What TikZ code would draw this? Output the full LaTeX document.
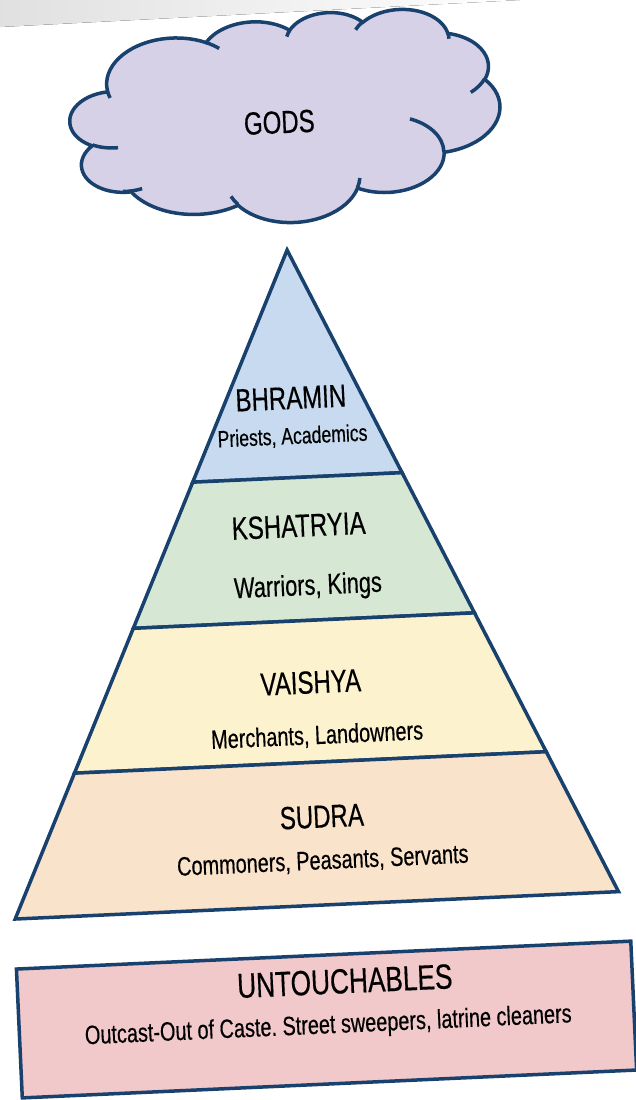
\documentclass[tikz,border=0pt]{standalone}
\usepackage{fontspec}
\setmainfont{Liberation Sans}[FakeStretch=0.75,FakeBold=0.4]
\usetikzlibrary{calc}
\definecolor{edgeblue}{RGB}{25,65,110}
\definecolor{cloudfill}{RGB}{215,209,231}
\definecolor{cblue}{RGB}{200,218,240}
\definecolor{cgreen}{RGB}{214,232,212}
\definecolor{cyellow}{RGB}{253,242,206}
\definecolor{cpeach}{RGB}{250,227,203}
\definecolor{cpink}{RGB}{242,201,203}
\newcommand\cloudarc[4]{arc[start angle={atan2((#1)*sin(#3),(#2)*cos(#3))},delta angle={mod(atan2((#1)*sin((#3)+(#4)),(#2)*cos((#3)+(#4)))-atan2((#1)*sin(#3),(#2)*cos(#3))+720,360)},x radius=#1,y radius=#2]}
\tikzset{
  band/.style={draw=edgeblue, line width=3.5pt},
  lbl/.style={inner sep=0pt, text=black},
  title/.style={lbl, font=\fontsize{32}{38}\selectfont},
}
\frenchspacing
\begin{document}
\begin{tikzpicture}[x=1pt,y=-1pt]
\useasboundingbox (0,0) rectangle (635,1100);
\fill[white] (0,0) rectangle (635,1100);
\fill[left color=black!12, right color=white] (0,0) -- (520,0) -- (0,27) -- cycle;
\begin{scope}[rotate around={2.6:(318,600)}, transform shape]
  % pyramid
  \coordinate (apex) at (303,249);
  \coordinate (bl) at (1,905);
  \coordinate (br) at (605,905);
  \coordinate (l1) at ($(apex)!0.3470!(bl)$);
  \coordinate (r1) at ($(apex)!0.3470!(br)$);
  \coordinate (l2) at ($(apex)!0.5655!(bl)$);
  \coordinate (r2) at ($(apex)!0.5655!(br)$);
  \coordinate (l3) at ($(apex)!0.7820!(bl)$);
  \coordinate (r3) at ($(apex)!0.7820!(br)$);
  \filldraw[band, fill=cblue] (apex) -- (r1) -- (l1) -- cycle;
  \filldraw[band, fill=cgreen] (l1) -- (r1) -- (r2) -- (l2) -- cycle;
  \filldraw[band, fill=cyellow] (l2) -- (r2) -- (r3) -- (l3) -- cycle;
  \filldraw[band, fill=cpeach] (l3) -- (r3) -- (br) -- (bl) -- cycle;
  % untouchables box
  \filldraw[band, fill=cpink] (0,955) rectangle (615,1084);
  % cloud (PowerPoint cloud geometry)
  \begin{scope}[shift={(92,13)}, x=0.9954pt, y=-0.4815pt]
    \filldraw[band, fill=cloudfill] (39,143.70)
      \cloudarc{67.53}{91.90}{-190.4875}{123.7805}
      \cloudarc{53.33}{72.67}{-144.1024}{89.9452}
      \cloudarc{43.65}{59.45}{-145.8079}{99.7230}
      \cloudarc{48.57}{65.95}{-130.9861}{117.2417}
      \cloudarc{53.33}{72.73}{-78.7089}{109.0269}
      \cloudarc{67.75}{92.20}{-46.2673}{130.2690}
      \cloudarc{57.85}{78.67}{0.6250}{114.0333}
      \cloudarc{67.52}{92.15}{22.4516}{115.1726}
      \cloudarc{77.20}{105.43}{66.2426}{75.7110}
      \cloudarc{43.60}{59.18}{-274.9421}{146.7356}
      \cloudarc{43.45}{59.45}{-246.8285}{152.5189}
      -- cycle;
    \draw[band] (46.93,261.77) \cloudarc{43.45}{59.45}{86.742}{26.4295};
    \draw[band] (69.28,348.99) \cloudarc{43.60}{59.18}{73.6031}{19.4192};
    \draw[band] (164.78,390.90) \cloudarc{67.52}{92.15}{137.6242}{14.0811};
    \draw[band] (288.27,347.51) \cloudarc{67.52}{92.15}{6.4533}{15.9984};
    \draw[band] (341.29,229.54) \cloudarc{57.85}{78.67}{-70.2924}{70.9174};
    \draw[band] (417.98,153.54) \cloudarc{53.33}{72.73}{30.3180}{27.7515};
    \draw[band] (383.24,54.26) \cloudarc{48.57}{65.95}{-13.7443}{14.8589};
    \draw[band] (290.78,39.52) \cloudarc{48.57}{65.95}{-149.1815}{18.1954};
    \draw[band] (221.41,47.20) \cloudarc{43.65}{59.45}{-163.4943}{17.1924};
    \draw[band] (140.00,51.92) \cloudarc{67.53}{91.90}{-66.7070}{12.3194};
    \draw[band] (41.27,157.89) \cloudarc{67.53}{91.90}{157.6544}{11.8582};
  \end{scope}
  % labels
  \node[title] (gods) at (301,121) {GODS};
  \node[title] (bhramin) at (300,397) {BHRAMIN};
  \node[lbl, font=\fontsize{23.5}{28}\selectfont] (bhraminsub) at (300,436) {Priests, Academics};
  \node[title] (kshatryia) at (302,525) {KSHATRYIA};
  \node[lbl, font=\fontsize{29}{34}\selectfont] (kshatryiasub) at (308.6,587) {Warriors, Kings};
  \node[title] (vaishya) at (307,682) {VAISHYA};
  \node[lbl, font=\fontsize{26.5}{32}\selectfont] (vaishyasub) at (311,736) {Merchants, Landowners};
  \node[title] (sudra) at (312,816.5) {SUDRA};
  \node[lbl, font=\fontsize{26.5}{32}\selectfont] (sudrasub) at (311,861.6) {Commoners, Peasants, Servants};
  \node[lbl, font=\fontsize{35}{42}\selectfont] (untouch) at (327.5,982) {UNTOUCHABLES};
  \node[lbl, font=\fontsize{26.5}{32}\selectfont] (untouchsub) at (309,1026.5) {Outcast-Out of Caste. Street sweepers, latrine cleaners};
\end{scope}
\end{tikzpicture}
\end{document}
